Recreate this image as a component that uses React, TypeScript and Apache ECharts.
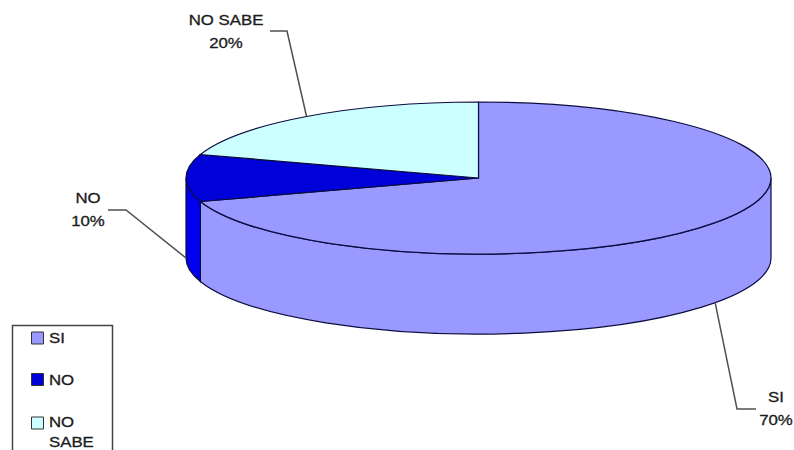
import React, { useEffect, useRef } from "react";
import * as echarts from "echarts";

const categories = ["SI", "NO", "NO SABE"];
const shares = [70, 10, 20];
const topColors = ["#9999ff", "#0000d8", "#ccffff"];
const wallColors = ["#9999ff", "#0000ee", "#aadddd"];
const legendLines = [["SI"], ["NO"], ["NO", "SABE"]];

// Drawing geometry of the tilted disc
const CX = 478.5;
const CY = 178;
const RX = 292.5;
const RY = 76;
const DEPTH = 80;
const OUTLINE = "#0c0c40";
const LEADER = "#505050";
const FONT = "Liberation Sans";
const TEXT_COLOR = "#1c1c1c";

// Elbow of each leader line and centre of its caption
const leaderLayout = [
  { elbow: [737, 409], end: [756, 409], text: [776, 409] },
  { elbow: [126, 210], end: [108, 210], text: [88, 210] },
  { elbow: [287, 31], end: [270, 31], text: [226, 32] },
];

// Angles run clockwise from twelve o'clock, in radians
const rim = (a: number, dy = 0) => [CX + RX * Math.sin(a), CY - RY * Math.cos(a) + dy];

const topPath = (a0: number, a1: number) => {
  const p0 = rim(a0);
  const p1 = rim(a1);
  const large = a1 - a0 > Math.PI ? 1 : 0;
  return `M${CX} ${CY}L${p0[0]} ${p0[1]}A${RX} ${RY} 0 ${large} 1 ${p1[0]} ${p1[1]}Z`;
};

// Only the front half of the disc (90deg to 270deg) shows a wall
const wallPath = (a0: number, a1: number) => {
  const s = Math.max(a0, Math.PI / 2);
  const e = Math.min(a1, (3 * Math.PI) / 2);
  if (e <= s) return null;
  const p0 = rim(s);
  const p1 = rim(e);
  return (
    `M${p0[0]} ${p0[1]}A${RX} ${RY} 0 0 1 ${p1[0]} ${p1[1]}` +
    `L${p1[0]} ${p1[1] + DEPTH}A${RX} ${RY} 0 0 0 ${p0[0]} ${p0[1] + DEPTH}Z`
  );
};

const textStyle = {
  x: 0,
  y: 0,
  verticalAlign: "middle",
  font: `14px "${FONT}"`,
  fill: TEXT_COLOR,
  stroke: TEXT_COLOR,
  lineWidth: 0.3,
};

const caption = (text: string, x: number, y: number) => ({
  type: "text",
  x,
  y,
  scaleX: 1.2,
  style: { ...textStyle, text, align: "center", lineHeight: 23 },
});

const total = shares.reduce((s, v) => s + v, 0);

const renderSlice = (params: any, api: any) => {
  const i = params.dataIndex;
  const before = shares.slice(0, i).reduce((s, v) => s + v, 0);
  const a0 = (before / total) * 2 * Math.PI;
  const a1 = ((before + api.value(0)) / total) * 2 * Math.PI;
  const mid = (a0 + a1) / 2;
  const anchor = rim(mid, Math.cos(mid) > 0.01 ? 0 : DEPTH);
  const lay = leaderLayout[i];
  const stroke = { stroke: OUTLINE, lineWidth: 1.2 };
  const children: any[] = [];
  const wall = wallPath(a0, a1);
  if (wall) {
    children.push({
      type: "path",
      shape: { pathData: wall },
      style: { fill: wallColors[i], ...stroke },
    });
  }
  children.push({
    type: "path",
    shape: { pathData: topPath(a0, a1) },
    style: { fill: topColors[i], ...stroke },
  });
  children.push({
    type: "polyline",
    shape: { points: [anchor, lay.elbow, lay.end] },
    style: { fill: "none", stroke: LEADER, lineWidth: 1.5 },
  });
  children.push(
    caption(`${categories[i]}\n${Math.round((api.value(0) / total) * 100)}%`, lay.text[0], lay.text[1]),
  );
  return { type: "group", children };
};

// Framed key in the lower left corner, cut off by the page edge
const legendSwatchRows = [338, 379.5, 423];
const legendTextRows = [338, 380, 422];
const legendGraphics: any[] = [
  {
    type: "rect",
    shape: { x: 12.5, y: 325.5, width: 100, height: 140 },
    style: { fill: "#fff", stroke: "#444", lineWidth: 1.5 },
  },
  ...legendLines.flatMap((lines, i) => [
    {
      type: "rect",
      shape: { x: 31.5, y: legendSwatchRows[i] - 6, width: 12, height: 12 },
      style: { fill: topColors[i], stroke: "#333", lineWidth: 1 },
    },
    ...lines.map((line, k) => ({
      type: "text",
      x: 49,
      y: legendTextRows[i] + k * 20,
      scaleX: 1.2,
      style: { ...textStyle, text: line, align: "left" },
    })),
  ]),
];

export default function App() {
  const ref = useRef<HTMLDivElement>(null);
  useEffect(() => {
    document.body.style.margin = "0";
    const chart = echarts.init(ref.current!, undefined, { renderer: "svg" });
    chart.setOption({
      animation: false,
      backgroundColor: "#fff",
      graphic: legendGraphics,
      series: [
        {
          type: "custom",
          coordinateSystem: "none",
          silent: true,
          data: shares.map((v, i) => ({ name: categories[i], value: [v] })),
          renderItem: renderSlice,
        },
      ],
    });
    return () => chart.dispose();
  }, []);
  return <div ref={ref} style={{ width: 794, height: 450 }} />;
}
